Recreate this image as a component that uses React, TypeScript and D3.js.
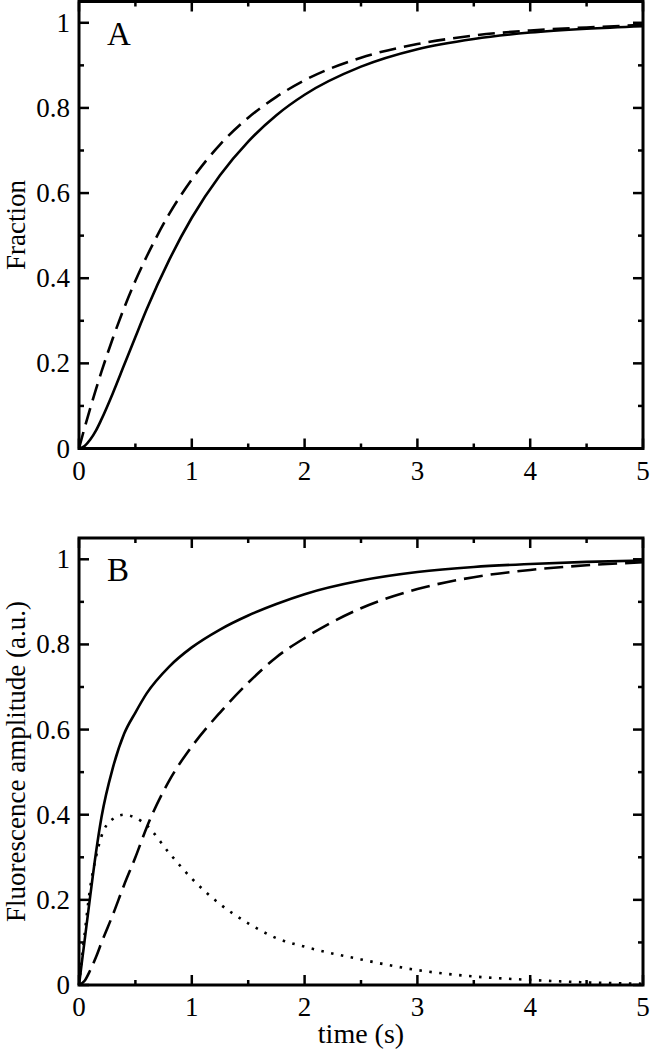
import { useEffect, useRef } from 'react'
import * as d3 from 'd3'

// time grid (s) shared by every curve
const times = [0, 0.05, 0.1, 0.15, 0.2, 0.3, 0.4, 0.5, 0.6, 0.8, 1, 1.25, 1.5, 1.75, 2, 2.5, 3, 3.5, 4, 4.5, 5]

// panel A
const fractionSolid = [0, 0.006, 0.021, 0.042, 0.069, 0.13, 0.196, 0.262, 0.327, 0.443, 0.542, 0.642, 0.721, 0.783, 0.831, 0.897, 0.938, 0.962, 0.977, 0.986, 0.992]
const fractionDashed = [0, 0.049, 0.095, 0.139, 0.181, 0.259, 0.33, 0.394, 0.451, 0.551, 0.632, 0.714, 0.777, 0.826, 0.865, 0.918, 0.95, 0.97, 0.982, 0.989, 0.995]

// panel B
const ampSolid = [0, 0.105, 0.21, 0.31, 0.395, 0.51, 0.59, 0.64, 0.685, 0.748, 0.793, 0.835, 0.868, 0.895, 0.918, 0.95, 0.97, 0.982, 0.989, 0.994, 0.997]
const ampDashed = [0, 0.01, 0.035, 0.065, 0.1, 0.165, 0.235, 0.3, 0.37, 0.48, 0.56, 0.64, 0.71, 0.77, 0.815, 0.885, 0.93, 0.958, 0.975, 0.986, 0.993]
const ampDotted = [0, 0.12, 0.23, 0.3, 0.35, 0.39, 0.4, 0.393, 0.375, 0.31, 0.25, 0.19, 0.145, 0.11, 0.09, 0.06, 0.035, 0.02, 0.012, 0.006, 0.003]

const xMajor = [0, 1, 2, 3, 4, 5]
const xMinor = [0.5, 1.5, 2.5, 3.5, 4.5]
const yMajor = [0, 0.2, 0.4, 0.6, 0.8, 1]
const yMinor = [0.1, 0.3, 0.5, 0.7, 0.9]

const panels = [
  { letter: 'A', yTitle: 'Fraction', top: 1.5, series: [fractionSolid, fractionDashed], styles: ['none', '17 8'] },
  { letter: 'B', yTitle: 'Fluorescence amplitude (a.u.)', top: 538, series: [ampSolid, ampDashed, ampDotted], styles: ['none', '19 8', '2.5 7.5'] },
]

const W = 650
const H = 1050
const left = 79
const right = 643
const plotH = 447
const font = 'Liberation Serif, Times New Roman, Times, serif'

export default function App() {
  const ref = useRef(null)

  useEffect(() => {
    const svg = d3.select(ref.current)
    svg.selectAll('*').remove()

    const x = d3.scaleLinear().domain([0, 5]).range([left, right])

    panels.forEach((p, pi) => {
      const y = d3.scaleLinear().domain([0, 1.05]).range([p.top + plotH, p.top])
      const g = svg.append('g').style('font-family', font)
      const bottom = p.top + plotH

      // curves
      const line = d3
        .line<number>()
        .x((d, i) => x(times[i]))
        .y((d) => y(d))
        .curve(d3.curveMonotoneX)
      p.series.forEach((s, si) => {
        g.append('path')
          .attr('d', line(s))
          .attr('fill', 'none')
          .attr('stroke', '#000')
          .attr('stroke-width', 2.6)
          .attr('stroke-dasharray', p.styles[si])
      })

      // ticks on all four sides
      const tk = g.append('g').attr('stroke', '#000').attr('stroke-width', 2.5)
      const xt = (v, len) => {
        tk.append('line').attr('x1', x(v)).attr('x2', x(v)).attr('y1', bottom).attr('y2', bottom - len)
        tk.append('line').attr('x1', x(v)).attr('x2', x(v)).attr('y1', p.top).attr('y2', p.top + len)
      }
      const yt = (v, len) => {
        tk.append('line').attr('x1', left).attr('x2', left + len).attr('y1', y(v)).attr('y2', y(v))
        tk.append('line').attr('x1', right).attr('x2', right - len).attr('y1', y(v)).attr('y2', y(v))
      }
      xMajor.forEach((v) => xt(v, 10))
      xMinor.forEach((v) => xt(v, 5))
      yMajor.forEach((v) => yt(v, 10))
      yMinor.forEach((v) => yt(v, 5))

      // frame
      g.append('rect')
        .attr('x', left)
        .attr('y', p.top)
        .attr('width', right - left)
        .attr('height', plotH)
        .attr('fill', 'none')
        .attr('stroke', '#000')
        .attr('stroke-width', 3)

      // tick labels
      g.selectAll('.xl')
        .data(xMajor)
        .enter()
        .append('text')
        .attr('x', (d) => x(d))
        .attr('y', bottom + 31)
        .attr('text-anchor', 'middle')
        .style('font-size', '27px')
        .text((d) => String(d))

      g.selectAll('.yl')
        .data(yMajor)
        .enter()
        .append('text')
        .attr('x', left - 9)
        .attr('y', (d) => y(d) + 9)
        .attr('text-anchor', 'end')
        .style('font-size', '27px')
        .text((d) => String(d))

      // panel letter
      g.append('text')
        .attr('x', 107)
        .attr('y', y(1) + 22)
        .style('font-size', '33px')
        .text(p.letter)

      // y title
      g.append('text')
        .attr('transform', `translate(25, ${(p.top + bottom) / 2}) rotate(-90)`)
        .attr('text-anchor', 'middle')
        .style('font-size', '27px')
        .text(p.yTitle)

      if (pi === 1) {
        g.append('text')
          .attr('x', (left + right) / 2)
          .attr('y', bottom + 58)
          .attr('text-anchor', 'middle')
          .style('font-size', '28px')
          .text('time (s)')
      }
    })
  }, [])

  return (
    <svg
      ref={ref}
      width={W}
      height={H}
      style={{ position: 'absolute', left: 0, top: 0, background: '#fff', fontFamily: font }}
    />
  )
}
